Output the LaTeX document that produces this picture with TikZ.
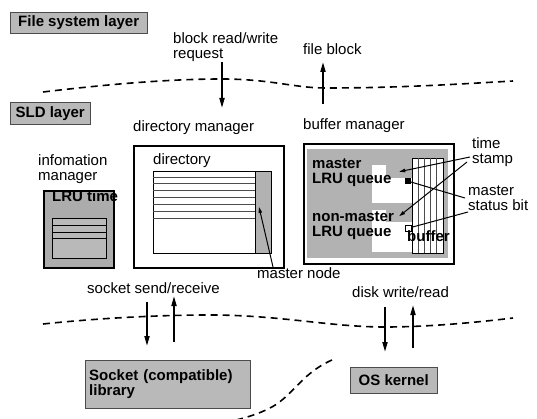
\documentclass[tikz,border=0pt]{standalone}
\usepackage{fontspec}
\setmainfont{Liberation Sans}
\usetikzlibrary{arrows.meta,calc}
\newcommand{\boxline}{2.4pt}
\newcommand{\txtsize}{\fontsize{15}{15}\selectfont}

\begin{document}
\begin{tikzpicture}[x=1pt,y=-1pt,
    every node/.style={inner sep=0pt, font=\txtsize},
    layer/.style={draw=black!70, fill=gray!55, font=\txtsize\bfseries},
    flow/.style={line width=1.8pt, -{Triangle[length=10pt,width=5pt]}},
    ptr/.style={line width=1pt, -{Triangle[length=6pt,width=3.5pt]}},
    cut/.style={line width=1.6pt, dash pattern=on 7pt off 5pt}]
  \useasboundingbox (0,0) rectangle (537,419);

  % layers
  \node (fsl) at (10,12) [layer, anchor=north west, minimum width=137pt, minimum height=21pt] {File system layer};
  \node (sld) at (10,102) [layer, anchor=north west, minimum width=80pt, minimum height=22pt] {SLD layer};
  \node (sock) at (85,360) [layer, anchor=north west, minimum width=165pt, minimum height=48pt, text width=157pt, inner xsep=4pt, align=left] {Socket (compatible)\\library};
  \node (osk) at (350,367) [layer, anchor=north west, minimum width=87pt, minimum height=26pt] {OS kernel};

  % layer borders
  \draw[cut] (43,92) .. controls (110,84) and (170,79) .. (222,79) .. controls (270,79) and (295,88) .. (325,88) .. controls (400,88) and (460,84) .. (513,81);
  \draw[cut] (43,324) .. controls (100,318) and (160,315) .. (210,315) .. controls (280,315) and (330,327) .. (385,327) .. controls (430,327) and (480,322) .. (513,318);
  \draw[cut] (332,360) .. controls (300,374) and (292,398) .. (268,409) .. controls (258,414) and (245,418) .. (232,421);

  % labels
  \node (brw) at (173,32) [anchor=north west, align=left] {block read/write\\request};
  \node (fb) at (303,55) [anchor=base west] {file block};
  \node (dml) at (133,132) [anchor=base west] {directory manager};
  \node (bml) at (303,130) [anchor=base west] {buffer manager};
  \node (iml) at (38,154) [anchor=north west, align=left] {infomation\\manager};
  \node (ssr) at (87,293) [anchor=base west] {socket send/receive};
  \node (dwr) at (352,297) [anchor=base west] {disk write/read};

  % requests between layers
  \coordinate (brw-a) at (222,62);  \coordinate (brw-b) at (222,108);
  \coordinate (fb-a) at (323,104);  \coordinate (fb-b) at (323,62);
  \coordinate (ssr-a) at (147,302); \coordinate (ssr-b) at (147,346);
  \coordinate (ssr-c) at (174,342); \coordinate (ssr-d) at (174,296);
  \coordinate (dwr-a) at (385,307); \coordinate (dwr-b) at (385,352);
  \coordinate (dwr-c) at (413,348); \coordinate (dwr-d) at (413,305);
  \draw[flow] (brw-a) -- (brw-b);
  \draw[flow] (fb-a) -- (fb-b);
  \draw[flow] (ssr-a) -- (ssr-b);
  \draw[flow] (ssr-c) -- (ssr-d);
  \draw[flow] (dwr-a) -- (dwr-b);
  \draw[flow] (dwr-c) -- (dwr-d);

  % information manager
  \node (imbox) at (43,190) [draw, line width=\boxline, fill=gray!65, anchor=north west, minimum width=70pt, minimum height=77pt] {};
  \node (lrut) at (52,202) [anchor=base west, font=\txtsize\bfseries] {LRU time};
  \node (imtab) at (52,218) [draw, fill=gray!55, anchor=north west, minimum width=54pt, minimum height=40pt] {};
  \foreach \y in {225,232,238} \draw (52,\y) -- (106,\y);

  % directory manager
  \node (dmbox) at (133,145) [draw, line width=\boxline, anchor=north west, minimum width=150pt, minimum height=122pt] {};
  \node (dirl) at (153,165) [anchor=base west] {directory};
  \node (dirtab) at (153,171) [draw, anchor=north west, minimum width=118pt, minimum height=82pt] {};
  \foreach \y in {177,183,190,197,204,211,218} \draw[gray!60!black] (153,\y) -- (255,\y);
  \node (mcol) at (255,171) [draw, fill=gray!60, anchor=north west, minimum width=16pt, minimum height=82pt] {};
  \node (mnl) at (257,278) [anchor=base west] {master node};
  \coordinate (mn-a) at (273,267); \coordinate (mn-b) at (259,207);
  \draw[ptr] (mn-a) -- (mn-b);

  % buffer manager
  \node (bmbox) at (303,143) [draw, line width=\boxline, anchor=north west, minimum width=150pt, minimum height=120pt] {};
  \fill[gray!60] (307,149) rectangle (448,258);
  \draw[fill=white] (412,158) rectangle (443,253);
  \foreach \x in {418,424,430,436} \draw[gray!60!black] (\x,158) -- (\x,253);
  \fill[white] (372,165) rectangle (412,203);
  \fill[white] (372,210) rectangle (412,252);
  \node (mts) at (386,165) [fill=gray!60, anchor=north west, minimum width=26pt, minimum height=13pt] {};
  \node (msb) at (405,178) [fill=black, anchor=north west, minimum size=6pt] {};
  \node (nts) at (386,210) [fill=gray!60, anchor=north west, minimum width=26pt, minimum height=12pt] {};
  \node (nsb) at (405,225) [draw, fill=white, anchor=north west, minimum size=6pt] {};
  \node (mq) at (312,159) [anchor=north west, align=left, font=\txtsize\bfseries] {master\\LRU queue};
  \node (nmq) at (312,212) [anchor=north west, align=left, font=\txtsize\bfseries] {non-master\\LRU queue};
  \node (buf) at (407,242) [anchor=base west, font=\txtsize\bfseries] {buffer};

  \node (tsl) at (472,137) [anchor=north west, align=left] {time\\stamp};
  \node (sbl) at (468,186) [anchor=north west, align=left] {master\\status bit};
  \coordinate (ts-a) at (470,157); \coordinate (ts-b) at (467,162);
  \coordinate (sb-a) at (465,198); \coordinate (sb-b) at (468,212);
  \draw[ptr] (ts-a) -- (mts.center);
  \draw[ptr] (ts-b) -- (nts.center);
  \draw[line width=1pt] (sb-a) -- (msb.center);
  \draw[line width=1pt] (sb-b) -- (nsb);
\end{tikzpicture}
\end{document}
